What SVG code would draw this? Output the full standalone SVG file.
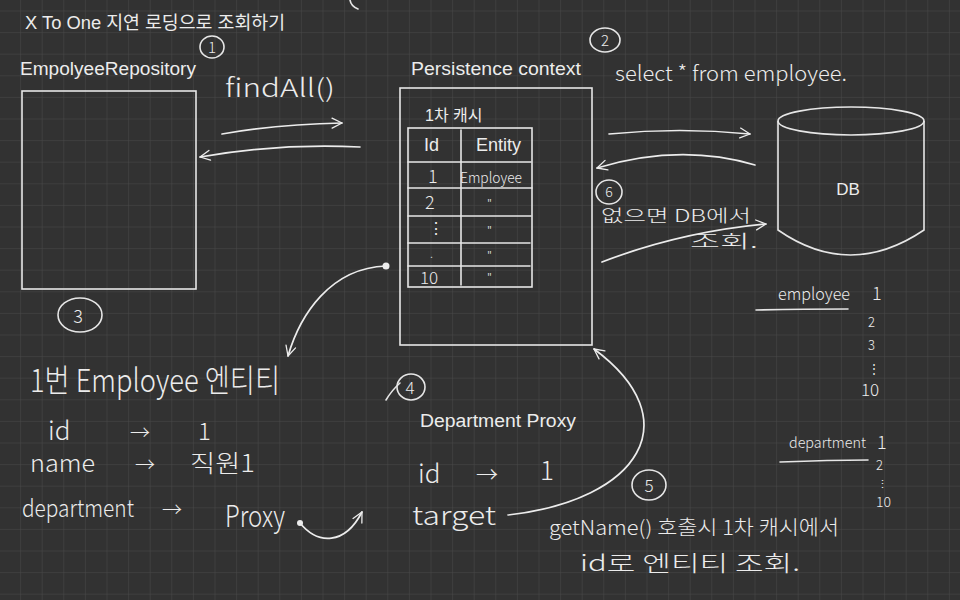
<svg xmlns="http://www.w3.org/2000/svg" width="960" height="600" viewBox="0 0 960 600">
<defs>
<pattern id="grid" x="-1.5" y="10.5" width="21.6" height="21.6" patternUnits="userSpaceOnUse">
<path d="M0,0 H21.6 M0,0 V21.6" fill="none" stroke="#4a4a4a" stroke-width="1"/>
</pattern>
<marker id="ah" viewBox="0 0 12 12" refX="11" refY="6" markerWidth="7" markerHeight="7" markerUnits="strokeWidth" orient="auto">
<path d="M1,1 L11,6 L1,11" fill="none" stroke="#ececec" stroke-width="1.3" stroke-linecap="round" stroke-linejoin="round"/>
</marker>
<style>
.typed{font-family:"Liberation Sans","Noto Sans CJK KR",sans-serif;fill:#ececec}
.hand{font-family:"Noto Sans CJK KR","DejaVu Sans",sans-serif;fill:#ececec;font-weight:300}
.ln{fill:none;stroke:#e6e6e6;stroke-width:1.6;stroke-linecap:round;stroke-linejoin:round}
.box{fill:none;stroke:#e6e6e6;stroke-width:1.6}
.con{fill:none;stroke:#ececec;stroke-width:1.7;stroke-linecap:round;marker-end:url(#ah)}
</style>
</defs>
<rect width="960" height="600" fill="#323232"/>
<rect width="960" height="600" fill="url(#grid)"/>

<text class="typed" x="25" y="29" font-size="18" textLength="260" lengthAdjust="spacingAndGlyphs">X To One 지연 로딩으로 조회하기</text>
<path class="ln" d="M350,0 Q351,6 358,9"/>

<g id="repository">
<text class="typed" x="20" y="75" font-size="18" textLength="176" lengthAdjust="spacingAndGlyphs">EmpolyeeRepository</text>
<rect class="box" x="22" y="91" width="174" height="198"/>
</g>

<g id="step1">
<ellipse class="ln" cx="212" cy="47" rx="12" ry="11"/>
<text class="hand" x="212" y="53" font-size="15" text-anchor="middle">1</text>
<text class="hand" x="225" y="97" font-size="25" textLength="110" lengthAdjust="spacingAndGlyphs">findAll()</text>
</g>

<g id="persistence-context">
<text class="typed" x="411" y="75" font-size="18" textLength="170" lengthAdjust="spacingAndGlyphs">Persistence context</text>
<rect class="box" x="400" y="88" width="192" height="257"/>
<text class="typed" x="425" y="121" font-size="16">1차 캐시</text>
<g id="cache-table">
<rect class="box" x="408" y="128" width="124" height="159"/>
<path class="ln" d="M461,130 V285 M408,162 H531 M408,188 H532 M408,216 H531 M408,243 H530 M408,266 H530"/>
<text class="typed" x="424" y="151" font-size="18">Id</text>
<text class="typed" x="476" y="151" font-size="18">Entity</text>
<text class="hand" x="428" y="183" font-size="18">1</text>
<text class="hand" x="460" y="183" font-size="15" textLength="62" lengthAdjust="spacingAndGlyphs">Employee</text>
<text class="hand" x="425" y="209" font-size="18">2</text>
<text class="hand" x="487" y="208" font-size="12">"</text>
<text class="hand" x="428" y="234" font-size="16">⋮</text>
<text class="hand" x="487" y="235" font-size="12">"</text>
<text class="hand" x="430" y="258" font-size="12">.</text>
<text class="hand" x="487" y="260" font-size="12">"</text>
<text class="hand" x="420" y="284" font-size="17">10</text>
<text class="hand" x="487" y="282" font-size="12">"</text>
</g>
</g>

<g id="step2">
<ellipse class="ln" cx="605" cy="40" rx="15" ry="12"/>
<text class="hand" x="605" y="46" font-size="15" text-anchor="middle">2</text>
<text class="hand" x="615" y="81" font-size="21" textLength="232" lengthAdjust="spacingAndGlyphs">select * from employee.</text>
</g>

<g id="db">
<path class="box" d="M778,121 V230 Q850,280 924,230 V121"/>
<ellipse class="box" cx="851" cy="121" rx="73" ry="14"/>
<text class="typed" x="848" y="195" font-size="17" text-anchor="middle">DB</text>
</g>

<g id="step6">
<ellipse class="ln" cx="609" cy="192" rx="13" ry="12"/>
<text class="hand" x="609" y="197" font-size="14" text-anchor="middle">6</text>
<text class="hand" x="601" y="222" font-size="17" textLength="150" lengthAdjust="spacingAndGlyphs">없으면 DB에서</text>
<text class="hand" x="690" y="248" font-size="18" textLength="68" lengthAdjust="spacingAndGlyphs">조회.</text>
</g>

<g id="db-tables">
<text class="hand" x="778" y="300" font-size="17" textLength="72" lengthAdjust="spacingAndGlyphs">employee</text>
<path class="ln" d="M756,310 Q800,309 848,309"/>
<text class="hand" x="872" y="300" font-size="18">1</text>
<text class="hand" x="868" y="327" font-size="13">2</text>
<text class="hand" x="868" y="350" font-size="13">3</text>
<text class="hand" x="868" y="373" font-size="12">⋮</text>
<text class="hand" x="861" y="396" font-size="17">10</text>
<text class="hand" x="789" y="448" font-size="15" textLength="77" lengthAdjust="spacingAndGlyphs">department</text>
<path class="ln" d="M780,462 Q830,460 868,460"/>
<text class="hand" x="877" y="449" font-size="18">1</text>
<text class="hand" x="876" y="470" font-size="13">2</text>
<text class="hand" x="877" y="488" font-size="11">⋮</text>
<text class="hand" x="876" y="507" font-size="14">10</text>
</g>

<g id="step3">
<ellipse class="ln" cx="80" cy="315" rx="22" ry="17"/>
<text class="hand" x="78" y="323" font-size="18" text-anchor="middle">3</text>
<text class="hand" x="30" y="392" font-size="32" textLength="250" lengthAdjust="spacingAndGlyphs">1번 Employee 엔티티</text>
<text class="hand" x="48" y="440" font-size="26">id</text>
<text class="hand" x="130" y="440" font-size="20">→</text>
<text class="hand" x="198" y="440" font-size="24">1</text>
<text class="hand" x="30" y="472" font-size="24" textLength="65" lengthAdjust="spacingAndGlyphs">name</text>
<text class="hand" x="135" y="472" font-size="20">→</text>
<text class="hand" x="190" y="472" font-size="24" textLength="65" lengthAdjust="spacingAndGlyphs">직원1</text>
<text class="hand" x="22" y="517" font-size="24" textLength="112" lengthAdjust="spacingAndGlyphs">department</text>
<text class="hand" x="162" y="517" font-size="20">→</text>
<text class="hand" x="225" y="527" font-size="30" textLength="60" lengthAdjust="spacingAndGlyphs">Proxy</text>
</g>

<g id="department-proxy">
<ellipse class="ln" cx="411" cy="387" rx="14" ry="13"/>
<text class="hand" x="410" y="394" font-size="17" text-anchor="middle">4</text>
<path class="ln" d="M386,400 Q392,390 400,383"/>
<text class="typed" x="420" y="427" font-size="18" textLength="156" lengthAdjust="spacingAndGlyphs">Department Proxy</text>
<text class="hand" x="418" y="483" font-size="26">id</text>
<text class="hand" x="476" y="482" font-size="22" font-weight="700">→</text>
<text class="hand" x="540" y="480" font-size="26">1</text>
<text class="hand" x="412" y="525" font-size="26" textLength="84" lengthAdjust="spacingAndGlyphs">target</text>
</g>

<g id="step5">
<ellipse class="ln" cx="649" cy="485" rx="17" ry="15"/>
<text class="hand" x="649" y="492" font-size="17" text-anchor="middle">5</text>
<text class="hand" x="549" y="535" font-size="20" textLength="290" lengthAdjust="spacingAndGlyphs">getName() 호출시 1차 캐시에서</text>
<text class="hand" x="580" y="571" font-size="22" textLength="220" lengthAdjust="spacingAndGlyphs">id로 엔티티 조회.</text>
</g>

<g id="connectors">
<path class="con" d="M222,134 Q280,124 342,123"/>
<path class="con" d="M360,147 Q280,143 200,157"/>
<path class="con" d="M609,134 Q680,127 750,134"/>
<path class="con" d="M755,165 Q680,143 597,168"/>
<path class="con" d="M602,262 Q680,232 766,224"/>
<circle cx="386" cy="266" r="3.5" fill="#ececec"/>
<path class="con" d="M386,266 C330,268 300,315 288,356"/>
<circle cx="300" cy="523" r="3" fill="#ececec"/>
<path class="con" d="M300,523 C318,545 345,545 362,512"/>
<path class="con" d="M508,515 C640,500 690,420 594,349"/>
</g>
</svg>
